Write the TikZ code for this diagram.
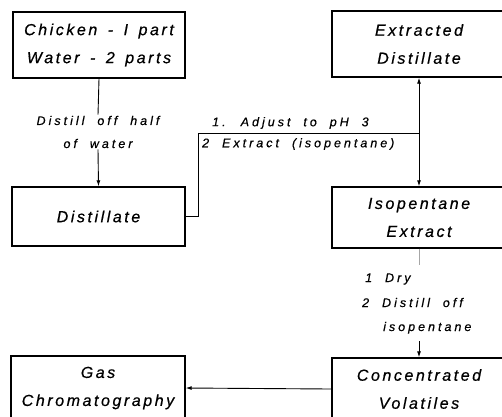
\documentclass[tikz,border=0pt]{standalone}
\usepackage{fontspec}
\setmainfont{Liberation Sans}
\newfontfamily\stagefont{Liberation Sans}[LetterSpace=16,WordSpace=1.5,FakeBold=0.6]
\newfontfamily\notefont{Liberation Sans}[LetterSpace=24,WordSpace=2,FakeBold=0.5]
\usetikzlibrary{arrows.meta}
\begin{document}
\begin{tikzpicture}[x=1pt,y=-1pt,
  stage/.style={draw,line width=1.4pt,align=center,inner sep=0pt,
    font=\stagefont\fontsize{16}{28}\selectfont\itshape},
  note/.style={inner sep=1pt,font=\notefont\fontsize{12.5}{23}\selectfont\itshape},
  flow/.style={line width=0.9pt},
  tip/.style={flow,-{Latex[length=6pt,width=4pt]}}]
\useasboundingbox (0,0) rectangle (502,416);
\clip (0,0) rectangle (502,416);

% process stages
\node[stage,minimum width=172pt,minimum height=66pt] (chicken) at (99,45)
  {Chicken - I part\\Water - 2 parts};
\node[stage,minimum width=174pt,minimum height=66pt] (extracted) at (419,44)
  {Extracted\\Distillate};
\node[stage,minimum width=173pt,minimum height=59pt] (distillate) at (98.5,216.5)
  {Distillate};
\node[stage,minimum width=174pt,minimum height=61pt] (isoext) at (419,217.5)
  {Isopentane\\Extract};
\node[stage,minimum width=174pt,minimum height=64pt] (gc) at (98,388)
  {Gas\\Chromatography};
\node[stage,minimum width=174pt,minimum height=62pt] (volatiles) at (419,389)
  {Concentrated\\Volatiles};

% distillation step
\node[note,align=center] (distill) at (98,132) {Distill off half\\of water};
\draw[flow] (chicken.south) -- (distill.north);
\draw[tip] (distill.south) -- (distillate.north);

% acidify and extract
\coordinate (split) at (419,133);
\draw[flow] (distillate.east) -- ++(13,0) |- (split);
\draw[tip] (split) -- (extracted.south);
\draw[tip] (split) -- (isoext.north);
\node[note,anchor=south west] (adjust) at (211,130) {1. Adjust to pH 3};
\node[note,anchor=north west] (extract) at (201,137) {2 Extract (isopentane)};

% drying and concentration
\coordinate (dryend) at (419,265);
\coordinate (concstart) at (419,341);
\draw[flow,draw=black!35] (isoext.south) -- (dryend);
\node[note,anchor=base west] (dry) at (364,282) {1 Dry};
\node[note,anchor=base west] (distoff) at (361,307) {2 Distill off};
\node[note,anchor=base west] (isop) at (382,331) {isopentane};
\draw[tip] (concstart) -- (volatiles.north);

% to analysis
\draw[tip] (volatiles.west) -- (gc.east);
\end{tikzpicture}
\end{document}
